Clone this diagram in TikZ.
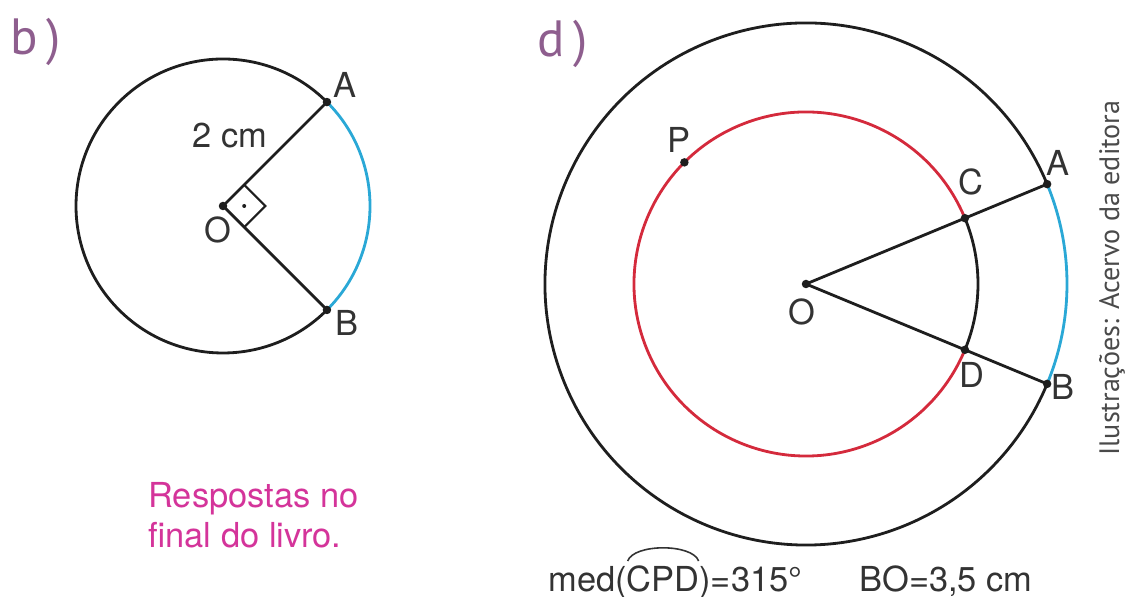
\documentclass[tikz,border=0pt]{standalone}
\usepackage{fontspec}
\setmainfont{TeX Gyre Heros}
\newfontfamily\tagfont{PT Sans}
\usepackage{xcolor}
\usepackage{tikz}
\usetikzlibrary{calc,positioning}
\definecolor{InkDark}{HTML}{1E1E1E}
\definecolor{TextGray}{HTML}{333333}
\definecolor{ArcCyan}{HTML}{2AA8D6}
\definecolor{CircleRed}{HTML}{D42A3C}
\definecolor{NoteMagenta}{HTML}{D4349A}
\definecolor{TagPurple}{HTML}{8E5E8E}
\definecolor{CreditGray}{HTML}{4A4A4A}
\newcommand{\arcover}[1]{%
    \begin{tikzpicture}[baseline=(w.base)]
        \node[inner sep=0pt, outer sep=0pt] (w) {#1};
        \draw[TextGray, line width=0.9pt] ($(w.north west)+(0.5pt,3pt)$) .. controls ($(w.north west)+(4pt,13pt)$) and ($(w.north east)+(-4pt,13pt)$) .. ($(w.north east)+(-0.5pt,3pt)$);
    \end{tikzpicture}%
}

\begin{document}
\begin{tikzpicture}[x=0.02cm, y=0.02cm, line width=1.6pt,
        every node/.style={text=TextGray, font=\fontsize{19.6}{23}\selectfont},
        ptdot/.style={circle, fill=InkDark, inner sep=0pt, minimum size=0.17cm},
        tag/.style={text=TagPurple, font=\tagfont\fontsize{29}{33}\selectfont}]
        \useasboundingbox (0,0) rectangle (1128,597);

        \node[tag] (tagb) at (36,555) {b\,)};
        \coordinate (Ob) at (223,391);
        \coordinate (Ab) at ($(Ob)+(45:147)$);
        \coordinate (Bb) at ($(Ob)+(-45:147)$);
        \draw[InkDark] (Ab) arc[start angle=45, end angle=315, radius=147];
        \draw[ArcCyan] (Bb) arc[start angle=-45, end angle=45, radius=147];
        \draw[InkDark] (Ab) -- (Ob) -- (Bb);
        \draw[InkDark, line width=1.2pt] ($(Ob)+(45:30)$) -- ++(-45:30) -- ++(-135:30);
        \fill[InkDark] ($(Ob)+(0:21.2)$) circle (2);
        \node[ptdot] (ob) at (Ob) {};
        \node[ptdot] (ab) at (Ab) {};
        \node[ptdot] (bb) at (Bb) {};
        \node (lab) at (345,512) {A};
        \node (lbb) at (347,274) {B};
        \node (lob) at (218,367) {O};
        \node (raiob) at (230,461) {2 cm};
        \node[anchor=north west, inner sep=0pt, align=left, text=NoteMagenta] (nota) at (147,116) {Respostas no\\final do livro.};

        \node[tag] (tagd) at (563,553) {d\,)};
        \coordinate (Od) at (806,313);
        \coordinate (Ad) at ($(Od)+(22.5:261)$);
        \coordinate (Bd) at ($(Od)+(-22.5:261)$);
        \coordinate (Cd) at ($(Od)+(22.5:172)$);
        \coordinate (Dd) at ($(Od)+(-22.5:172)$);
        \coordinate (Pd) at ($(Od)+(135:172)$);
        \draw[InkDark] (Ad) arc[start angle=22.5, end angle=337.5, radius=261];
        \draw[ArcCyan] (Bd) arc[start angle=-22.5, end angle=22.5, radius=261];
        \draw[CircleRed] (Cd) arc[start angle=22.5, end angle=337.5, radius=172];
        \draw[InkDark] (Dd) arc[start angle=-22.5, end angle=22.5, radius=172];
        \draw[InkDark] (Ad) -- (Od) -- (Bd);
        \foreach \p in {Od,Ad,Bd,Cd,Dd,Pd}
            \node[ptdot] (d\p) at (\p) {};
        \node (lad) at (1058,434) {A};
        \node (lcd) at (971,415) {C};
        \node (ldd) at (972,222) {D};
        \node (lbd) at (1063,210) {B};
        \node (lpd) at (679,457) {P};
        \node (lod) at (802,285) {O};

        \node[anchor=base west, inner sep=0pt] (medida) at (548,5) {med(\arcover{CPD})=315°};
        \node[anchor=base west, inner sep=0pt] (raiod) at (858,5) {BO=3,5 cm};
        \node[rotate=90, text=CreditGray, font=\tagfont\fontsize{16}{19}\selectfont] (credito) at (1112,319) {Ilustrações: Acervo da editora};
    \end{tikzpicture}
\end{document}
